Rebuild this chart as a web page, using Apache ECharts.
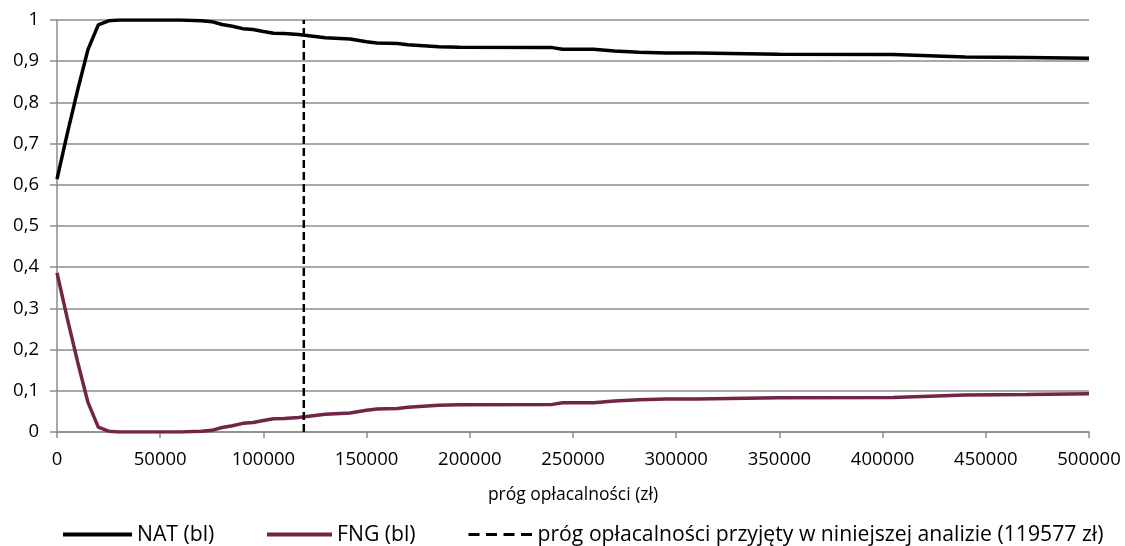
<!DOCTYPE html>
<html>
<head>
<meta charset="utf-8">
<script src="https://cdn.jsdelivr.net/npm/echarts@6/dist/echarts.min.js"></script>
<style>
  html, body { margin: 0; padding: 0; background: #fff; }
  #chart { width: 1125px; height: 546px; }
</style>
</head>
<body>
<div id="chart"></div>
<script>
// Profitability threshold (zł) sampled along the x axis
const thresholds = [0, 5000, 10000, 15000, 20000, 25000, 30000, 40000, 50000, 60000, 70000, 75000,
  80000, 85000, 90000, 95000, 100000, 105000, 110000, 117000, 120000, 130000, 142000, 150000,
  155000, 165000, 170000, 185000, 195000, 240000, 245000, 260000, 270000, 282000, 295000,
  310000, 350000, 405000, 440000, 470000, 500000];

const natValues = [0.614, 0.725, 0.83, 0.928, 0.988, 0.998, 1.0, 1.0, 1.0, 1.0, 0.998, 0.996,
  0.989, 0.985, 0.979, 0.977, 0.972, 0.968, 0.967, 0.965, 0.963, 0.957, 0.954, 0.947,
  0.944, 0.943, 0.94, 0.935, 0.934, 0.933, 0.929, 0.929, 0.925, 0.922, 0.92,
  0.92, 0.917, 0.916, 0.91, 0.909, 0.907];

const fngValues = [0.386, 0.275, 0.17, 0.072, 0.012, 0.002, 0, 0, 0, 0, 0.002, 0.004,
  0.011, 0.015, 0.021, 0.023, 0.028, 0.032, 0.033, 0.035, 0.037, 0.043, 0.046, 0.053,
  0.056, 0.057, 0.06, 0.065, 0.066, 0.067, 0.071, 0.071, 0.075, 0.078, 0.08,
  0.08, 0.083, 0.084, 0.09, 0.091, 0.093];

const adoptedThreshold = 119577;

const seriesNames = ['NAT (bl)', 'FNG (bl)', 'próg opłacalności przyjęty w niniejszej analizie (119577 zł)'];
const xAxisTitle = 'próg opłacalności (zł)';

const FONT = '"Open Sans", sans-serif';
const TICK_FS = 18.5;
const TITLE_FS = 17.5;
const LEGEND_FS = 21.2;
const GRID_GRAY = '#8c8c8c';
const FNG_COLOR = '#722449';

const pairs = (xs, ys) => xs.map((x, i) => [x, ys[i]]);

const legendBase = {
  orient: 'horizontal',
  top: 524,
  padding: 0,
  itemHeight: 14,
  itemGap: 10,
  itemStyle: { opacity: 0 },
  textStyle: { fontFamily: FONT, fontSize: LEGEND_FS, color: '#000' },
  selectedMode: false
};

const chart = echarts.init(document.getElementById('chart'), null, { renderer: 'canvas' });
chart.setOption({
  backgroundColor: '#fff',
  animation: false,
  grid: { left: 57, right: 36, top: 20, bottom: 114, containLabel: false },
  xAxis: {
    type: 'value',
    min: 0, max: 500000, interval: 50000,
    name: xAxisTitle,
    nameLocation: 'middle',
    nameGap: 54,
    nameTextStyle: { fontFamily: FONT, fontSize: TITLE_FS, color: '#000' },
    axisLine: { show: true, lineStyle: { color: GRID_GRAY, width: 1.5 } },
    axisTick: { show: true, length: 6, lineStyle: { color: GRID_GRAY, width: 1.5 } },
    axisLabel: {
      fontFamily: FONT, fontSize: TICK_FS, color: '#000', margin: 18,
      formatter: v => String(v)
    },
    splitLine: { show: false }
  },
  yAxis: {
    type: 'value',
    min: 0, max: 1, interval: 0.1,
    axisLine: { show: true, lineStyle: { color: GRID_GRAY, width: 1.5 } },
    axisTick: { show: true, length: 7, lineStyle: { color: GRID_GRAY, width: 1.5 } },
    axisLabel: {
      fontFamily: FONT, fontSize: TICK_FS, color: '#000', margin: 18,
      formatter: v => String(Math.round(v * 10) / 10).replace('.', ',')
    },
    splitLine: { show: true, lineStyle: { color: GRID_GRAY, width: 1.5 } }
  },
  legend: [
    Object.assign({}, legendBase, { left: 61, itemWidth: 69, data: [seriesNames[0]], lineStyle: { width: 4 } }),
    Object.assign({}, legendBase, { left: 265, itemWidth: 65, data: [seriesNames[1]], lineStyle: { width: 4 } }),
    Object.assign({}, legendBase, { left: 467, itemWidth: 64, data: [seriesNames[2]], lineStyle: { width: 3, type: [11, 6.5] } })
  ],
  series: [
    {
      name: seriesNames[0],
      type: 'line',
      data: pairs(thresholds, natValues),
      showSymbol: false, symbol: 'none',
      lineStyle: { color: '#000', width: 3.5 },
      itemStyle: { color: '#000' },
      z: 3
    },
    {
      name: seriesNames[1],
      type: 'line',
      data: pairs(thresholds, fngValues),
      showSymbol: false, symbol: 'none',
      lineStyle: { color: FNG_COLOR, width: 3.5 },
      itemStyle: { color: FNG_COLOR },
      z: 3
    },
    {
      name: seriesNames[2],
      type: 'line',
      data: [[adoptedThreshold, 0], [adoptedThreshold, 1]],
      showSymbol: false, symbol: 'none',
      lineStyle: { color: '#000', width: 2.5, type: [8, 4] },
      itemStyle: { color: '#000' },
      z: 4
    }
  ]
});
</script>
</body>
</html>
